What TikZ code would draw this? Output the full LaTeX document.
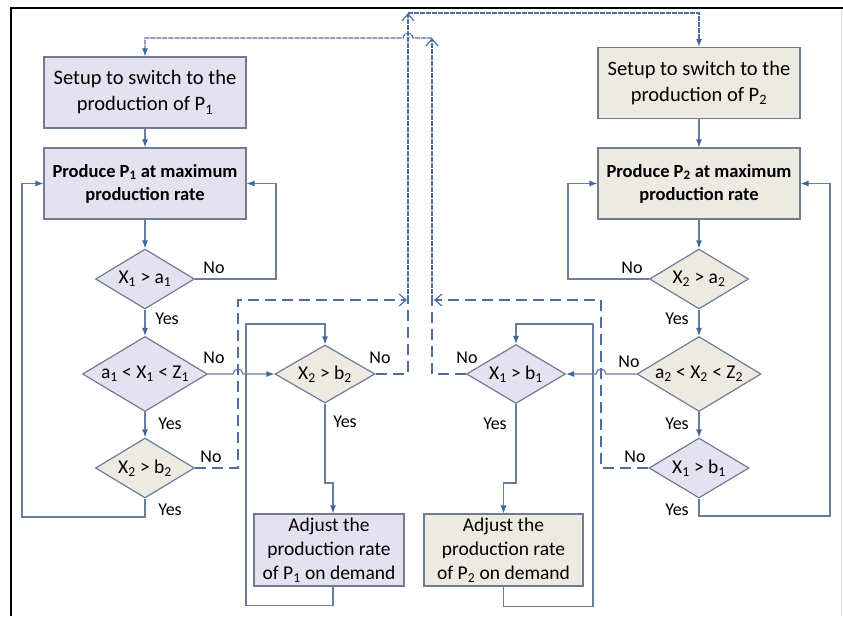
\documentclass[tikz,border=0pt]{standalone}
\usepackage{fontspec}
\setmainfont{Carlito}
\usetikzlibrary{shapes.geometric,arrows.meta}
\definecolor{lav}{HTML}{E4E1F0}
\definecolor{beige}{HTML}{ECEAE1}
\definecolor{bord}{HTML}{6F7C93}
\definecolor{ln}{HTML}{6A7D9E}
\definecolor{dl}{HTML}{4F6E9E}
\definecolor{tip}{HTML}{3E65A0}
\begin{document}
\begin{tikzpicture}[x=1pt,y=-1pt,
  box/.style={draw=bord,line width=1.2pt,minimum width=202pt,minimum height=71pt,inner sep=0pt,align=center,font=\fontsize{20.5}{26}\selectfont},
  boldbox/.style={box,font=\fontsize{18.5}{23}\selectfont\bfseries},
  adj/.style={draw=bord,line width=1.2pt,minimum height=72pt,inner sep=0pt,align=center,font=\fontsize{19.5}{24}\selectfont},
  dia/.style={diamond,draw=bord,line width=1.2pt,inner sep=0pt,shape aspect=1.65,font=\fontsize{19.5}{22}\selectfont},
  lab/.style={inner sep=0pt,font=\fontsize{18}{20}\selectfont},
  con/.style={draw=ln,line width=1.2pt},
  arr/.style={con,-{Latex[length=8pt,width=6pt,color=tip,fill=tip]}},
  dsh/.style={draw=dl,line width=1.3pt,dash pattern=on 11pt off 6pt},
  fdsh/.style={draw=dl,line width=1.3pt,dash pattern=on 5pt off 1pt},
  opentip/.style={-{Straight Barb[length=7pt,width=12pt,color=dl,line width=1.2pt]}}
]
\useasboundingbox (0,0) rectangle (843,616);
% frame
\draw[line width=2.5pt] (11,616) -- (11,8) -- (843,8);
\draw[black!15,line width=1pt] (841,10) -- (841,616);

% left column
\node[box,fill=lav] (s1) at (145,92.5) {Setup to switch to the\\production of P\textsubscript{1}};
\node[boldbox,fill=lav] (p1) at (145,183.5) {Produce P\textsubscript{1} at maximum\\production rate};
\node[dia,fill=lav,minimum width=99pt,minimum height=60pt] (d1) at (145,279) {X\textsubscript{1} > a\textsubscript{1}};
\node[dia,fill=lav,minimum width=125pt,minimum height=75pt] (d2) at (145,374) {a\textsubscript{1} < X\textsubscript{1} < Z\textsubscript{1}};
\node[dia,fill=beige,minimum width=99pt,minimum height=60pt] (d3) at (145,468) {X\textsubscript{2} > b\textsubscript{2}};

% middle
\node[dia,fill=beige,minimum width=100pt,minimum height=58pt] (d4) at (325,374) {X\textsubscript{2} > b\textsubscript{2}};
\node[adj,fill=lav,minimum width=150pt] (a1) at (329,550) {Adjust the\\production rate\\of P\textsubscript{1} on demand};
\node[dia,fill=lav,minimum width=99pt,minimum height=59pt] (d8) at (516,374) {X\textsubscript{1} > b\textsubscript{1}};
\node[adj,fill=beige,minimum width=159pt] (a2) at (503.5,550) {Adjust the\\production rate\\of P\textsubscript{2} on demand};

% right column
\node[box,fill=beige] (s2) at (699,83) {Setup to switch to the\\production of P\textsubscript{2}};
\node[boldbox,fill=beige] (p2) at (699,183.5) {Produce P\textsubscript{2} at maximum\\production rate};
\node[dia,fill=beige,minimum width=99pt,minimum height=60pt] (d5) at (699,279) {X\textsubscript{2} > a\textsubscript{2}};
\node[dia,fill=beige,minimum width=124pt,minimum height=75pt] (d6) at (699,374) {a\textsubscript{2} < X\textsubscript{2} < Z\textsubscript{2}};
\node[dia,fill=lav,minimum width=100pt,minimum height=60pt] (d7) at (699,468) {X\textsubscript{1} > b\textsubscript{1}};

% junction coordinates
\coordinate (jl) at (408,300);
\coordinate (jr) at (432,300);
\coordinate (tl) at (408,13);
\coordinate (tr) at (432,38);

% left connectors
\draw[arr] (s1) -- (p1);
\draw[arr] (p1) -- (d1);
\draw[arr] (d1) -- (d2);
\draw[arr] (d2) -- (d3);
\draw[arr] (d1.east) -- (276,279) |- (p1.east);
\draw[arr] (d3.south) -- (145,517) -- (22,517) |- (p1.west);
\draw[arr] (d2.east) -- (233,374) arc (180:360:5) -- (d4.west);
\draw[dsh,opentip] (d3.east) -- (238,468) -- (238,300) -- ([xshift=-1pt]jl);

% middle left loop
\draw[arr] (d4.south) -- (325,483) -| ([xshift=4pt]a1.north);
\draw[arr] ([xshift=4pt]a1.south) -- ++(0,19) -| (246,324) -| (d4.north);
\draw[dsh] (d4.east) -- (408,374) -- (jl);
\draw[fdsh,opentip] (jl) -- (tl);
\draw[arr,fdsh] (tl) -| (s2.north);

% middle right loop
\draw[arr] (d8.south) -- (516,483) -| (a2.north);
\draw[arr] (a2.south) -- ++(0,20) -| (593,324) -| (d8.north);
\draw[dsh] (d8.west) -- (432,374) -- (jr);
\draw[fdsh,opentip] (jr) -- (tr);
\draw[arr,fdsh] (tr) -- (413,38) arc (0:-180:5) -- (145,38) -- (s1.north);

% right connectors
\draw[arr] (s2) -- (p2);
\draw[arr] (p2) -- (d5);
\draw[arr] (d5) -- (d6);
\draw[arr] (d6) -- (d7);
\draw[arr] (d5.west) -- (568,279) |- (p2.west);
\draw[arr] (d7.south) -- (699,516) -- (830,516) |- (p2.east);
\draw[arr] (d6.west) -- (606,374) arc (0:-180:5) -- (d8.east);
\draw[dsh,opentip] (d7.west) -- (601,468) -- (601,300) -- ([xshift=2pt]jr);

% labels
\node[lab] (n1) at (214,268) {No};
\node[lab] (n2) at (214,358) {No};
\node[lab] (n3) at (211,457) {No};
\node[lab] (n4) at (380,358) {No};
\node[lab] (n5) at (632,268) {No};
\node[lab] (n6) at (629,362) {No};
\node[lab] (n7) at (467,358) {No};
\node[lab] (n8) at (635,457) {No};
\node[lab] (y1) at (167,319) {Yes};
\node[lab] (y2) at (170,424) {Yes};
\node[lab] (y3) at (170,510) {Yes};
\node[lab] (y4) at (345,422) {Yes};
\node[lab] (y5) at (495,424) {Yes};
\node[lab] (y6) at (677,319) {Yes};
\node[lab] (y7) at (677,424) {Yes};
\node[lab] (y8) at (677,510) {Yes};
\end{tikzpicture}
\end{document}
